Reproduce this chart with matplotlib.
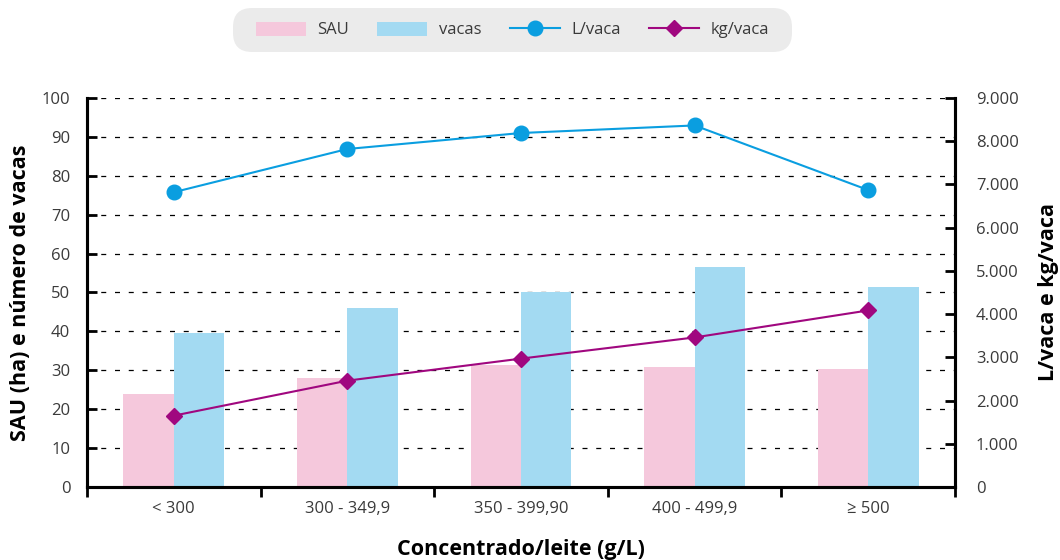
import matplotlib
matplotlib.use("Agg")
import matplotlib.pyplot as plt
import numpy as np
from matplotlib.ticker import FuncFormatter, MultipleLocator
from matplotlib.patches import FancyBboxPatch

plt.rcParams['font.family'] = ['Open Sans', 'DejaVu Sans']

categories = ["< 300", "300 - 349,9", "350 - 399,90", "400 - 499,9", "≥ 500"]
sau = [23.8, 28.0, 31.3, 30.8, 30.3]
vacas = [39.5, 46.0, 50.0, 56.5, 51.5]
l_vaca = [6820, 7820, 8190, 8365, 6870]
kg_vaca = [1650, 2460, 2970, 3460, 4085]

PINK = "#F5C8DC"
BLUE = "#A3DAF2"
LBLUE = "#0A9EE0"
PURPLE = "#A0077F"
TXT = "#3a3a3a"

fig = plt.figure(figsize=(10.6, 5.6), dpi=100)
ax = fig.add_axes([0.082, 0.1304, 0.819, 0.6946])
ax2 = ax.twinx()

x = np.arange(len(categories))
w = 0.29
ax.bar(x - w / 2, sau, width=w, color=PINK, label="SAU", zorder=2)
ax.bar(x + w / 2, vacas, width=w, color=BLUE, label="vacas", zorder=2)
ax.set_axisbelow(True)

ax2.plot(x, l_vaca, color=LBLUE, lw=1.5, marker="o", ms=10.5, label="L/vaca")
ax2.plot(x, kg_vaca, color=PURPLE, lw=1.5, marker="D", ms=8, label="kg/vaca")

ax.set_xlim(-0.5, len(categories) - 0.5)
ax.set_ylim(0, 100)
ax2.set_ylim(0, 9000)
ax.yaxis.set_major_locator(MultipleLocator(10))
ax2.yaxis.set_major_locator(MultipleLocator(1000))
ax2.yaxis.set_major_formatter(FuncFormatter(lambda v, p: "0" if v == 0 else f"{int(v):,}".replace(",", ".")))

ax.grid(axis="y", color="black", lw=0.9, linestyle=(0, (4, 7)))
ax.set_xticks(np.arange(len(categories) + 1) - 0.5)
ax.set_xticklabels([])
ax.set_xticks(x, minor=True)
ax.set_xticklabels(categories, minor=True)
ax.tick_params(axis="x", which="major", direction="out", length=7, width=2, color="black")
ax.tick_params(axis="x", which="minor", length=0, pad=10, labelsize=12, labelcolor=TXT)
ax.tick_params(axis="y", direction="in", length=7, width=2, labelsize=12, labelcolor=TXT, pad=12)
ax2.tick_params(axis="y", direction="in", length=7, width=2, labelsize=12, labelcolor=TXT, pad=15)

for a in (ax, ax2):
    a.spines["top"].set_visible(False)
    for s in ("left", "right", "bottom"):
        a.spines[s].set_linewidth(2.2)
        a.spines[s].set_color("black")

ax.set_ylabel("SAU (ha) e número de vacas", fontsize=15.5, fontweight="bold", color="black", labelpad=8)
ax2.set_ylabel("L/vaca e kg/vaca", fontsize=15.5, fontweight="bold", color="black", labelpad=14)
ax.set_xlabel("Concentrado/leite (g/L)", fontsize=15.5, fontweight="bold", color="black", labelpad=16)

# legend background box
box = FancyBboxPatch((233 / 1060, 1 - 52 / 560), 559 / 1060, 44 / 560,
                     boxstyle="round,pad=0,rounding_size=0.018", transform=fig.transFigure,
                     facecolor="#EBEBEB", edgecolor="none", mutation_aspect=1060 / 560)
fig.patches.append(box)

h1, l1 = ax.get_legend_handles_labels()
h2, l2 = ax2.get_legend_handles_labels()
leg = fig.legend(h1 + h2, l1 + l2, loc="center", bbox_to_anchor=(0.4835, 1 - 30 / 560), ncol=4,
                 frameon=False, fontsize=12, handlelength=3.0, handleheight=0.9,
                 handletextpad=0.7, columnspacing=1.7, borderpad=0)
for t in leg.get_texts():
    t.set_color(TXT)

fig.savefig("out.png", dpi=100)
